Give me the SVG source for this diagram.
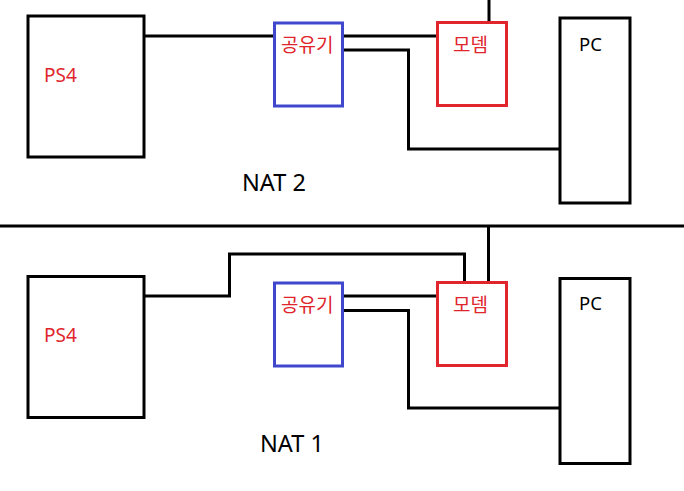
<svg xmlns="http://www.w3.org/2000/svg" width="684" height="491" viewBox="0 0 684 491">
<style>
.box{fill:none;stroke:#000;stroke-width:3}
.red{fill:none;stroke:#e0262c;stroke-width:3}
.blue{fill:none;stroke:#3f48cc;stroke-width:3}
.wire{fill:none;stroke:#000;stroke-width:3}
text{font-family:"Noto Sans","Noto Sans CJK KR",sans-serif}
.rt{fill:#e0262c;font-size:19px}
.kt{fill:#e0262c;font-size:19px;font-family:"Noto Sans CJK KR",sans-serif}
.bt{fill:#000;font-size:18.5px}
.nat{fill:#000;font-size:23.5px}
</style>
<rect width="684" height="491" fill="#fff"/>
<g id="connectors">
<line class="wire" x1="0" y1="226" x2="684" y2="226"/>
<polyline class="wire" points="145,36 274,36"/>
<polyline class="wire" points="343,36 437,36"/>
<polyline class="wire" points="343,50 408.5,50 408.5,149 560,149"/>
<polyline class="wire" points="489,0 489,22"/>
<polyline class="wire" points="145,296 229.5,296 229.5,254 464.5,254 464.5,282"/>
<polyline class="wire" points="343,296 437,296"/>
<polyline class="wire" points="343,310.5 408.5,310.5 408.5,408 560,408"/>
<polyline class="wire" points="488.5,226 488.5,282"/>
</g>
<g id="ps4-top"><rect class="box" x="28" y="16" width="116" height="141"/><text class="rt" x="44" y="82">PS4</text></g>
<g id="router-top"><rect class="blue" x="274.5" y="23" width="68" height="83"/><text class="kt" x="281" y="52">공유기</text></g>
<g id="modem-top"><rect class="red" x="437.5" y="22.5" width="69" height="83"/><text class="kt" x="453" y="52">모뎀</text></g>
<g id="pc-top"><rect class="box" x="560" y="18" width="70" height="185"/><text class="bt" x="579" y="51">PC</text></g>
<text class="nat" x="242" y="191">NAT 2</text>
<g id="ps4-bottom"><rect class="box" x="28" y="276.5" width="116" height="141"/><text class="rt" x="44" y="342">PS4</text></g>
<g id="router-bottom"><rect class="blue" x="274.5" y="283" width="68" height="83"/><text class="kt" x="281" y="312">공유기</text></g>
<g id="modem-bottom"><rect class="red" x="437.5" y="282.5" width="69" height="83"/><text class="kt" x="453" y="312">모뎀</text></g>
<g id="pc-bottom"><rect class="box" x="560" y="278.5" width="70" height="185"/><text class="bt" x="579" y="310">PC</text></g>
<text class="nat" x="260" y="452">NAT 1</text>
</svg>
